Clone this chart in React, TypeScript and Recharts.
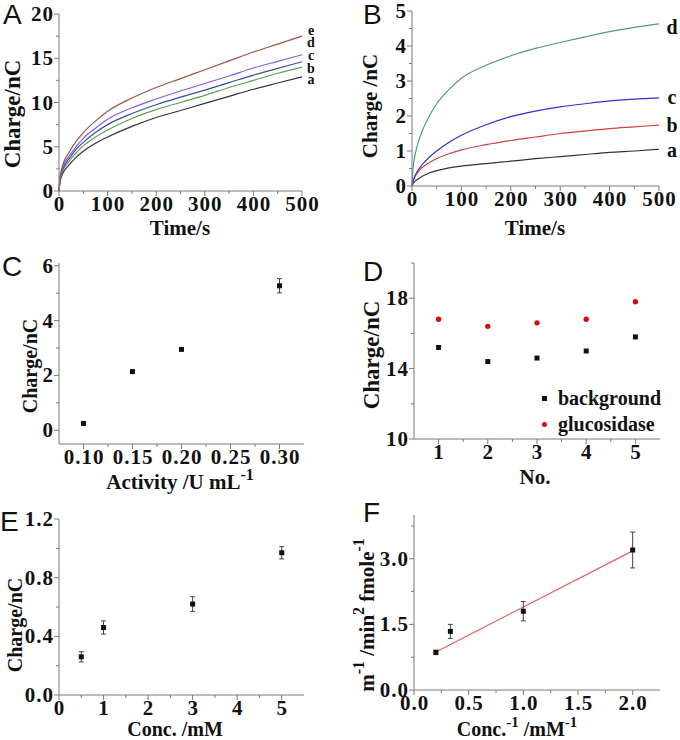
import React from 'react';
import {
  LineChart, Line, ScatterChart, Scatter, ComposedChart,
  XAxis, YAxis, ErrorBar, Legend,
} from 'recharts';

const SERIF = '"Liberation Serif", "Times New Roman", serif';
const SANS = '"Liberation Sans", Arial, sans-serif';
const AXIS = '#7a7a7a';
const INK = '#111';

// A: charge vs time, curves a-e
const timeA = [0, 2, 5, 10, 20, 35, 50, 75, 100, 150, 200, 250, 300, 350, 400, 450, 500];
const chargeA_a = [0, 1.0, 1.6, 2.2, 2.9, 3.8, 4.5, 5.4, 6.1, 7.3, 8.3, 9.1, 9.9, 10.7, 11.5, 12.2, 12.9];
const chargeA_b = [0, 1.1, 1.8, 2.5, 3.3, 4.3, 5.1, 6.1, 6.9, 8.2, 9.2, 10.0, 10.8, 11.7, 12.5, 13.3, 14.0];
const chargeA_c = [0, 1.25, 2.0, 2.75, 3.6, 4.7, 5.5, 6.6, 7.5, 8.75, 9.75, 10.6, 11.4, 12.25, 13.1, 13.85, 14.6];
const chargeA_d = [0, 1.35, 2.15, 3.0, 3.9, 5.0, 5.95, 7.1, 8.1, 9.4, 10.4, 11.3, 12.15, 13.0, 13.9, 14.65, 15.4];
const chargeA_e = [0, 1.5, 2.4, 3.3, 4.3, 5.6, 6.6, 7.9, 9.0, 10.5, 11.7, 12.7, 13.7, 14.7, 15.7, 16.6, 17.5];
const ticksA_x = [0, 50, 100, 150, 200, 250, 300, 350, 400, 450, 500];
const ticksA_y = [0, 2.5, 5, 7.5, 10, 12.5, 15, 17.5, 20];

// B: charge vs time, curves a-d
const timeB = [0, 2, 5, 10, 20, 35, 50, 75, 100, 150, 200, 250, 300, 350, 400, 450, 500];
const chargeB_a = [0, 0.06, 0.12, 0.18, 0.27, 0.37, 0.44, 0.52, 0.57, 0.64, 0.71, 0.78, 0.84, 0.9, 0.96, 1.0, 1.05];
const chargeB_b = [0, 0.12, 0.24, 0.36, 0.52, 0.67, 0.78, 0.92, 1.03, 1.18, 1.3, 1.4, 1.5, 1.57, 1.64, 1.69, 1.74];
const chargeB_c = [0, 0.12, 0.25, 0.4, 0.6, 0.82, 1.0, 1.25, 1.45, 1.75, 1.98, 2.14, 2.26, 2.35, 2.43, 2.48, 2.52];
const chargeB_d = [0, 0.5, 0.8, 1.12, 1.55, 2.0, 2.35, 2.76, 3.08, 3.45, 3.72, 3.93, 4.1, 4.26, 4.41, 4.53, 4.63];
const ticksB_y = [0, 0.5, 1, 1.5, 2, 2.5, 3, 3.5, 4, 4.5, 5];

// C: charge vs activity
const activityC = [0.1, 0.15, 0.2, 0.3];
const chargeC = [0.25, 2.14, 2.95, 5.27];
const errC = [0, 0, 0, 0.26];
const ticksC_x = [0.1, 0.125, 0.15, 0.175, 0.2, 0.225, 0.25, 0.275, 0.3];
const ticksC_y = [0, 1, 2, 3, 4, 5, 6];

// D: repeat runs
const runsD = [1, 2, 3, 4, 5];
const backgroundD = [15.2, 14.4, 14.6, 15.0, 15.8];
const glucosidaseD = [16.8, 16.4, 16.6, 16.8, 17.8];
const ticksD_x = [1, 1.5, 2, 2.5, 3, 3.5, 4, 4.5, 5];
const ticksD_y = [10, 12, 14, 16, 18, 20];

// E: charge vs concentration
const concE = [0.5, 1, 3, 5];
const chargeE = [0.26, 0.46, 0.62, 0.97];
const errE = [0.035, 0.045, 0.05, 0.042];
const ticksE_x = [0, 0.5, 1, 1.5, 2, 2.5, 3, 3.5, 4, 4.5, 5];
const ticksE_y = [0, 0.2, 0.4, 0.6, 0.8, 1.0, 1.2];

// F: double reciprocal plot
const invConcF = [0.2, 0.333, 1.0, 2.0];
const invRateF = [0.86, 1.34, 1.8, 3.2];
const errF = [0.05, 0.16, 0.22, 0.41];
const fitXF = [0.2, 2.0];
const fitYF = [0.87, 3.18];
const ticksF_x = [0, 0.25, 0.5, 0.75, 1, 1.25, 1.5, 1.75, 2];
const ticksF_y = [0, 0.75, 1.5, 2.25, 3, 3.75];

const rowsA = timeA.map((t, i) => ({ t, a: chargeA_a[i], b: chargeA_b[i], c: chargeA_c[i], d: chargeA_d[i], e: chargeA_e[i] }));
const rowsB = timeB.map((t, i) => ({ t, a: chargeB_a[i], b: chargeB_b[i], c: chargeB_c[i], d: chargeB_d[i] }));
const pointsC = activityC.map((x, i) => ({ x, y: chargeC[i], err: errC[i] }));
const bgD = runsD.map((x, i) => ({ x, y: backgroundD[i] }));
const glD = runsD.map((x, i) => ({ x, y: glucosidaseD[i] }));
const pointsE = concE.map((x, i) => ({ x, y: chargeE[i], err: errE[i] }));
const pointsF = invConcF.map((x, i) => ({ x, y: invRateF[i], err: errF[i] }));
const fitF = fitXF.map((x, i) => ({ x, y: fitYF[i] }));

const tickText = { fontFamily: SERIF, fontWeight: 700, fontSize: 21, fill: INK, letterSpacing: 1 };

type Fmt = (v: number) => string | null;

function xTick(fmt: Fmt) {
  return (p: any) => {
    const label = fmt(p.payload.value);
    return (
      <g>
        <line x1={p.x} x2={p.x} y1={p.y} y2={p.y + (label === null ? 3 : 5)} stroke={AXIS} />
        {label !== null && (
          <text x={p.x + 0.5} y={p.y + 20} textAnchor="middle" style={tickText}>{label}</text>
        )}
      </g>
    );
  };
}

function yTick(fmt: Fmt) {
  return (p: any) => {
    const label = fmt(p.payload.value);
    return (
      <g>
        <line x1={p.x} x2={p.x - (label === null ? 3 : 5)} y1={p.y} y2={p.y} stroke={AXIS} />
        {label !== null && (
          <text x={p.x - 5} y={p.y + 7} textAnchor="end" style={tickText}>{label}</text>
        )}
      </g>
    );
  };
}

const near = (v: number, step: number) => Math.abs(v / step - Math.round(v / step)) < 1e-6;

// small markers like the original plot
const square = (p: any) => <rect x={p.cx - 2.5} y={p.cy - 2.5} width={5} height={5} fill={p.fill} />;
const dot = (p: any) => <circle cx={p.cx} cy={p.cy} r={2.7} fill={p.fill} />;

function hTitle(x: number, y: number, parts: React.ReactNode, size = 21) {
  return {
    content: () => (
      <text x={x} y={y} textAnchor="middle" dominantBaseline="central"
        style={{ fontFamily: SERIF, fontWeight: 700, fontSize: size, fill: INK }}>
        {parts}
      </text>
    ),
  };
}

function vTitle(x: number, y: number, parts: React.ReactNode, size = 21) {
  return {
    content: () => (
      <text x={x} y={y} transform={`rotate(-90 ${x} ${y})`} textAnchor="middle" dominantBaseline="central"
        style={{ fontFamily: SERIF, fontWeight: 700, fontSize: size, fill: INK }}>
        {parts}
      </text>
    ),
  };
}

function endLabel(text: string, last: number, dx: number, dy: number, size: number) {
  return (p: any) => {
    if (p.index !== last) return <g />;
    const x = p.x ?? p.viewBox?.x;
    const y = p.y ?? p.viewBox?.y;
    return (
      <text x={x + dx} y={y + dy} textAnchor="middle" dominantBaseline="central"
        style={{ fontFamily: SERIF, fontWeight: 700, fontSize: size, fill: INK }}>
        {text}
      </text>
    );
  };
}

const axisCommon = {
  type: 'number' as const,
  interval: 0 as const,
  tickSize: 0,
  tickMargin: 0,
  tickLine: false,
  axisLine: { stroke: AXIS },
};

const Letter = ({ ch, left, top }: { ch: string; left: number; top: number }) => (
  <div style={{ position: 'absolute', left, top, fontFamily: SANS, fontSize: 28, lineHeight: '28px', color: INK }}>{ch}</div>
);

const legendD = (props: any) => (
  <div style={{ fontFamily: SERIF, fontWeight: 700, fontSize: 20, color: INK }}>
    {(props.payload || []).map((e: any) => (
      <div key={e.value} style={{ display: 'flex', alignItems: 'center', height: 26 }}>
        <span style={{ width: 14, display: 'flex', justifyContent: 'center', marginRight: 7 }}>
          <span style={{ width: 5, height: 5, background: e.color, borderRadius: e.type === 'circle' ? '50%' : 0 }} />
        </span>
        {e.value}
      </div>
    ))}
  </div>
);

const last = timeA.length - 1;

export default function App() {
  return (
    <div style={{ position: 'absolute', left: 0, top: 0, width: 680, height: 740, background: '#fff' }}>
      {/* A */}
      <div style={{ position: 'absolute', left: 0, top: 0 }}>
        <LineChart width={340} height={245} data={rowsA} margin={{ top: 14, right: 38, bottom: 0, left: 0 }}>
          <XAxis {...axisCommon} dataKey="t" domain={[0, 500]} ticks={ticksA_x} height={54}
            tick={xTick((v) => (near(v, 100) ? String(v) : null))}
            label={hTitle(180, 228, 'Time/s')} />
          <YAxis {...axisCommon} domain={[0, 20]} ticks={ticksA_y} width={59}
            tick={yTick((v) => (near(v, 5) ? String(v) : null))}
            label={vTitle(12, 114, 'Charge/nC', 23)} />
          <Line type="monotone" dataKey="a" stroke="#333333" strokeWidth={1.2} dot={false} isAnimationActive={false} label={endLabel('a', last, 9, 3, 14)} />
          <Line type="monotone" dataKey="b" stroke="#5aa050" strokeWidth={1.2} dot={false} isAnimationActive={false} label={endLabel('b', last, 9, 1, 14)} />
          <Line type="monotone" dataKey="c" stroke="#3a4aa0" strokeWidth={1.2} dot={false} isAnimationActive={false} label={endLabel('c', last, 9, -6, 14)} />
          <Line type="monotone" dataKey="d" stroke="#8a5ae8" strokeWidth={1.2} dot={false} isAnimationActive={false} label={endLabel('d', last, 9, -12, 14)} />
          <Line type="monotone" dataKey="e" stroke="#a0524a" strokeWidth={1.2} dot={false} isAnimationActive={false} label={endLabel('e', last, 9, -6, 14)} />
        </LineChart>
      </div>

      {/* B */}
      <div style={{ position: 'absolute', left: 340, top: 0 }}>
        <LineChart width={340} height={245} data={rowsB} margin={{ top: 11, right: 21, bottom: 0, left: 0 }}>
          <XAxis {...axisCommon} dataKey="t" domain={[0, 500]} ticks={ticksA_x} height={59}
            tick={xTick((v) => (near(v, 100) ? String(v) : null))}
            label={hTitle(195, 228, 'Time/s')} />
          <YAxis {...axisCommon} domain={[0, 5]} ticks={ticksB_y} width={72}
            tick={yTick((v) => (near(v, 1) ? String(v) : null))}
            label={vTitle(30, 106, 'Charge /nC', 21)} />
          <Line type="monotone" dataKey="a" stroke="#333333" strokeWidth={1.2} dot={false} isAnimationActive={false} label={endLabel('a', last, 13, 1, 20)} />
          <Line type="monotone" dataKey="b" stroke="#d04040" strokeWidth={1.2} dot={false} isAnimationActive={false} label={endLabel('b', last, 13, 0, 20)} />
          <Line type="monotone" dataKey="c" stroke="#3030d0" strokeWidth={1.2} dot={false} isAnimationActive={false} label={endLabel('c', last, 13, -1, 20)} />
          <Line type="monotone" dataKey="d" stroke="#4a9a88" strokeWidth={1.2} dot={false} isAnimationActive={false} label={endLabel('d', last, 13, 3, 20)} />
        </LineChart>
      </div>

      {/* C */}
      <div style={{ position: 'absolute', left: 0, top: 245 }}>
        <ScatterChart width={340} height={250} margin={{ top: 18, right: 36, bottom: 0, left: 0 }}>
          <XAxis {...axisCommon} dataKey="x" domain={[0.075, 0.325]} ticks={ticksC_x} height={51}
            tick={xTick((v) => (near(v, 0.05) ? v.toFixed(2) : null))}
            label={hTitle(180, 237, ['Activity /U mL', <tspan key="s" dy={-8} fontSize={16}>-1</tspan>])} />
          <YAxis {...axisCommon} dataKey="y" domain={[-0.5, 6.1]} ticks={ticksC_y} width={59}
            tick={yTick((v) => (near(v, 2) ? String(v) : null))}
            label={vTitle(30, 121, 'Charge/nC', 20)} />
          <Scatter data={pointsC} fill="#111" shape={square} isAnimationActive={false}>
            <ErrorBar dataKey="err" direction="y" width={2.5} stroke="#444" strokeWidth={1} />
          </Scatter>
        </ScatterChart>
      </div>

      {/* D */}
      <div style={{ position: 'absolute', left: 340, top: 245 }}>
        <ScatterChart width={340} height={250} margin={{ top: 18, right: 20, bottom: 0, left: 0 }}>
          <XAxis {...axisCommon} dataKey="x" domain={[0.5, 5.5]} ticks={ticksD_x} height={56}
            tick={xTick((v) => (near(v, 1) ? String(v) : null))}
            label={hTitle(195, 232, 'No.')} />
          <YAxis {...axisCommon} dataKey="y" domain={[10, 20]} ticks={ticksD_y} width={74}
            tick={yTick((v) => (near(v - 10, 4) ? String(v) : null))}
            label={vTitle(31, 110, 'Charge/nC', 23)} />
          <Legend layout="vertical" align="center" verticalAlign="middle" content={legendD}
            wrapperStyle={{ left: 197, top: 140, width: 160, height: 52 }} />
          <Scatter name="background" data={bgD} fill="#111" shape={square} legendType="square" isAnimationActive={false} />
          <Scatter name="glucosidase" data={glD} fill="#d01010" shape={dot} legendType="circle" isAnimationActive={false} />
        </ScatterChart>
      </div>

      {/* E */}
      <div style={{ position: 'absolute', left: 0, top: 495 }}>
        <ScatterChart width={340} height={245} margin={{ top: 24, right: 36, bottom: 0, left: 0 }}>
          <XAxis {...axisCommon} dataKey="x" domain={[0, 5.5]} ticks={ticksE_x} height={45}
            tick={xTick((v) => (near(v, 1) ? String(v) : null))}
            label={hTitle(175, 234, 'Conc. /mM', 20)} />
          <YAxis {...axisCommon} dataKey="y" domain={[0, 1.2]} ticks={ticksE_y} width={59}
            tick={yTick((v) => (near(v, 0.4) ? v.toFixed(1) : null))}
            label={vTitle(15, 130, 'Charge/nC', 20)} />
          <Scatter data={pointsE} fill="#111" shape={square} isAnimationActive={false}>
            <ErrorBar dataKey="err" direction="y" width={2.5} stroke="#444" strokeWidth={1} />
          </Scatter>
        </ScatterChart>
      </div>

      {/* F */}
      <div style={{ position: 'absolute', left: 340, top: 495 }}>
        <ComposedChart width={340} height={245} margin={{ top: 20, right: 20, bottom: 0, left: 0 }}>
          <XAxis {...axisCommon} dataKey="x" domain={[0, 2.25]} ticks={ticksF_x} height={50}
            tick={xTick((v) => (near(v, 0.5) ? v.toFixed(1) : null))}
            label={hTitle(177, 234, [
              'Conc.',
              <tspan key="a" dy={-7} fontSize={15}>-1</tspan>,
              <tspan key="b" dy={7}> /mM</tspan>,
              <tspan key="c" dy={-7} fontSize={15}>-1</tspan>,
            ], 20)} />
          <YAxis {...axisCommon} dataKey="y" domain={[0, 4]} ticks={ticksF_y} width={74}
            tick={yTick((v) => (near(v, 1.5) ? v.toFixed(1) : null))}
            label={vTitle(27, 120, [
              'm',
              <tspan key="a" dy={-9} fontSize={16}>-1</tspan>,
              <tspan key="b" dy={9}> /min</tspan>,
              <tspan key="c" dy={-9} fontSize={16}>2</tspan>,
              <tspan key="d" dy={9}> fmole</tspan>,
              <tspan key="e" dy={-9} fontSize={16}>-1</tspan>,
            ], 21)} />
          <Line data={fitF} dataKey="y" type="linear" stroke="#e06060" strokeWidth={1.2} dot={false} isAnimationActive={false} />
          <Scatter data={pointsF} dataKey="y" fill="#111" shape={square} isAnimationActive={false}>
            <ErrorBar dataKey="err" direction="y" width={2.5} stroke="#444" strokeWidth={1} />
          </Scatter>
        </ComposedChart>
      </div>

      <Letter ch="A" left={3} top={1} />
      <Letter ch="B" left={363} top={1} />
      <Letter ch="C" left={2} top={253} />
      <Letter ch="D" left={363} top={258} />
      <Letter ch="E" left={0} top={508} />
      <Letter ch="F" left={363} top={499} />
    </div>
  );
}
